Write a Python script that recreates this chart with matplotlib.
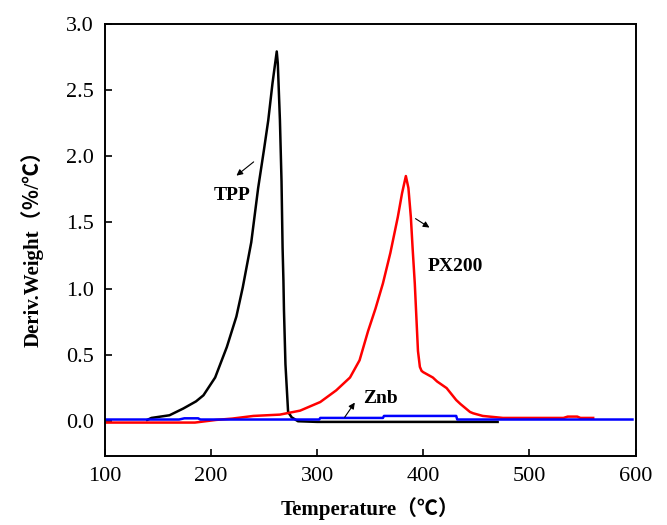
import numpy as np
import matplotlib.pyplot as plt

# ---------------------------------------------------------
# Data
# ---------------------------------------------------------
tpp_t = [140, 144, 161, 174, 186, 193, 204, 215, 224, 230, 238, 244.5, 250, 254,
         258, 262, 263, 265, 266.5, 267.5, 268.3, 268.8, 270.2, 272.7, 276, 282,
         300, 470]
tpp_d = [0.01, 0.025, 0.045, 0.096, 0.15, 0.196, 0.33, 0.56, 0.79, 1.01, 1.35, 1.76,
         2.05, 2.27, 2.55, 2.79, 2.70, 2.27, 1.81, 1.31, 1.06, 0.84, 0.43, 0.07, 0.03,
         0.0, -0.005, -0.005]

px_t = [100, 185, 205, 220, 240, 265, 284, 303, 318, 331, 340, 348, 355, 362, 369,
        376, 380, 383.6, 386, 388.3, 390, 392, 393.7, 395, 396.8, 398.4, 400, 409,
        413, 422, 431, 435, 444, 447, 456, 475, 532, 536, 545, 548, 560]
px_d = [-0.01, -0.01, 0.01, 0.02, 0.04, 0.05, 0.08, 0.145, 0.233, 0.33, 0.46, 0.68,
        0.85, 1.04, 1.27, 1.54, 1.72, 1.85, 1.76, 1.54, 1.30, 1.04, 0.75, 0.53, 0.41,
        0.38, 0.37, 0.33, 0.30, 0.25, 0.16, 0.13, 0.07, 0.06, 0.04, 0.025, 0.025,
        0.035, 0.035, 0.025, 0.025]

znb_t = [100, 170, 175, 188, 190, 302, 303, 362, 363, 431, 432, 597]
znb_d = [0.013, 0.013, 0.022, 0.022, 0.013, 0.013, 0.025, 0.025, 0.04, 0.04, 0.013, 0.013]

# ---------------------------------------------------------
# Plot
# ---------------------------------------------------------
plt.rcParams['font.family'] = ['Liberation Serif', 'Noto Sans CJK SC', 'DejaVu Sans']

fig = plt.figure(figsize=(6.67, 5.25), dpi=100)
ax = fig.add_axes([0.157, 0.132, 0.796, 0.823])

ax.plot(tpp_t, tpp_d, color='k', lw=1.8)
ax.plot(px_t, px_d, color='#ff0000', lw=1.8)
ax.plot(znb_t, znb_d, color='#0000ff', lw=1.8)

# curve labels with small arrows
arrow = dict(arrowstyle='-|>', color='k', lw=0.8, mutation_scale=9)
ax.annotate('', xy=(222, 1.84), xytext=(242.3, 1.97), arrowprops=arrow)
ax.text(219.5, 1.70, 'TPP', fontsize=14, fontweight='bold', ha='center', va='center')
ax.annotate('', xy=(408, 1.45), xytext=(390.5, 1.54), arrowprops=arrow)
ax.text(430, 1.17, 'PX200', fontsize=14, fontweight='bold', ha='center', va='center')
ax.annotate('', xy=(337, 0.158), xytext=(324.5, 0.013), arrowprops=arrow)
ax.text(359.5, 0.17, 'Znb', fontsize=14, fontweight='bold', ha='center', va='center')

ax.set_xlim(100, 600)
ax.set_ylim(-0.26, 3.0)
ax.set_xticks([100, 200, 300, 400, 500, 600])
ax.set_yticks([0.0, 0.5, 1.0, 1.5, 2.0, 2.5, 3.0])
ax.set_yticklabels(['0.0', '0.5', '1.0', '1.5', '2.0', '2.5', '3.0'])
ax.tick_params(direction='in', length=5, width=1.2, labelsize=16, pad=8,
               top=False, right=False)
for s in ax.spines.values():
    s.set_linewidth(1.4)

ax.set_xlabel('Temperature（℃）', fontsize=15, fontweight='bold', labelpad=8)
ax.set_ylabel('Deriv.Weight（％/℃）', fontsize=15, fontweight='bold', labelpad=10)
ax.yaxis.set_label_coords(-0.115, 0.49)

fig.savefig('out.png', dpi=100)
